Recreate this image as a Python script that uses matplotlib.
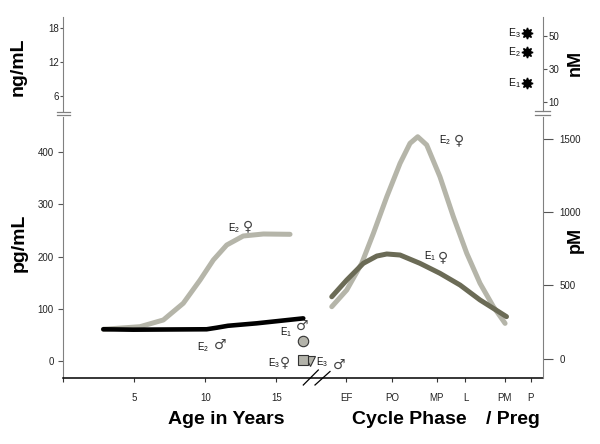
import matplotlib
matplotlib.use('Agg')
import matplotlib.pyplot as plt
from matplotlib.lines import Line2D

plt.rcParams['font.family'] = ['Liberation Sans', 'DejaVu Sans']
plt.rcParams['mathtext.fontset'] = 'custom'
plt.rcParams['mathtext.rm'] = 'Liberation Sans'
plt.rcParams['mathtext.it'] = 'Liberation Sans'

# ---------------- data ----------------
age_ticks = [0, 5, 10, 15]
age_tick_labels = ['', '5', '10', '15']
phase_labels = ['EF', 'PO', 'MP', 'L', 'PM', 'P']
phase_pos = [19.88, 23.11, 26.23, 28.26, 31.02, 32.84]

# childhood / puberty (pg/mL)
girl_e2_age = [2.85, 5.42, 7.06, 8.46, 9.64, 10.57, 11.51, 12.67, 14.08, 15.95]
girl_e2_pg = [60.8, 65.7, 78.6, 110.6, 155.2, 193.6, 222.3, 239.6, 243.4, 242.8]
boy_e2_age = [2.85, 4.95, 10.1, 10.81, 11.6, 13.61, 16.88]
boy_e2_pg = [60.8, 60.0, 60.8, 63.8, 67.5, 72.2, 81.7]

# adult male points (pg/mL)
male_e1_x, male_e1_pg = 16.88, 38.9
male_e3f_x, male_e3f_pg = 16.88, 1.9
male_e3m_x, male_e3m_pg = 17.35, 0.5

# menstrual cycle (pM)
cyc_e2_x = [18.88, 19.93, 20.98, 21.8, 22.74, 23.67, 24.37, 24.91, 25.54,
            26.47, 27.41, 28.35, 29.28, 30.22, 31.04]
cyc_e2_pM = [354, 468, 650, 855, 1105, 1333, 1470, 1515, 1459,
             1242, 969, 719, 514, 354, 240]
cyc_e1_x = [18.88, 19.93, 21.09, 22.04, 22.74, 23.67, 25.07, 26.47, 27.88,
            29.28, 31.14]
cyc_e1_pM = [422, 536, 650, 700, 714, 707, 650, 582, 502, 400, 286]

# pregnancy (nM)
preg_x = 32.6
preg_names = ['E$_1$', 'E$_2$', 'E$_3$']
preg_nM = [21.3, 40.5, 51.8]

# ---------------- style ----------------
LIGHT = '#b5b5a9'
DARK = '#6b6b56'
SPINE = '#808080'
W, H = 600, 444


def fx(x):
    return x / W


def fy(y):
    return 1 - y / H


fig = plt.figure(figsize=(6, 4.44), dpi=100)

# lower panel
ax = fig.add_axes([fx(62.7), fy(378), fx(542.7) - fx(62.7), fy(116.7) - fy(378)])
ax.set_xlim(0, 33.68)
ax.set_ylim(-32.6, 468.2)
axr = ax.twinx()
axr.set_ylim(-133.2, 1651.9)

for s in ['top', 'right']:
    ax.spines[s].set_visible(False)
ax.spines['left'].set_color(SPINE)
ax.spines['bottom'].set_color('black')
ax.spines['bottom'].set_linewidth(1.1)
for s in ['top', 'left', 'bottom']:
    axr.spines[s].set_visible(False)
axr.spines['right'].set_color(SPINE)

ax.set_yticks([0, 100, 200, 300, 400])
ax.tick_params(axis='y', direction='out', length=3.6, pad=3, labelsize=7,
               color='#555555', labelcolor='#222222')
ax.set_xticks(age_ticks + phase_pos)
ax.set_xticklabels(age_tick_labels + phase_labels)
ax.tick_params(axis='x', direction='out', length=3, pad=8, labelsize=7,
               color='#333333', labelcolor='#222222')
axr.set_yticks([0, 500, 1000, 1500])
axr.tick_params(axis='y', direction='out', length=7, pad=5, labelsize=7,
                color='#555555', labelcolor='#222222')

# curves
ax.plot(girl_e2_age, girl_e2_pg, color=LIGHT, lw=3.6, solid_capstyle='round',
        solid_joinstyle='round', zorder=2)
ax.plot(boy_e2_age, boy_e2_pg, color='black', lw=3.3, solid_capstyle='round',
        solid_joinstyle='round', zorder=3)
axr.plot(cyc_e2_x, cyc_e2_pM, color=LIGHT, lw=3.6, solid_capstyle='round',
         solid_joinstyle='round')
axr.plot(cyc_e1_x, cyc_e1_pM, color=DARK, lw=3.6, solid_capstyle='round',
         solid_joinstyle='round')

ax.plot([male_e1_x], [male_e1_pg], 'o', ms=7.5, mfc='#b3b3aa', mec='#333333', mew=0.8, zorder=4)
ax.plot([male_e3m_x], [male_e3m_pg], 'v', ms=6.5, mfc='#b3b3aa', mec='#333333', mew=0.8, zorder=4)
ax.plot([male_e3f_x], [male_e3f_pg], 's', ms=6.5, mfc='#b3b3aa', mec='#333333', mew=0.8, zorder=5)

# labels lower panel
def lab(a, xe, ye, sub, xs, ys, sym):
    a.text(xe, ye, 'E$_{%s}$' % sub, fontsize=7, ha='left', va='center', color='#111111')
    a.text(xs, ys, sym, fontsize=10, ha='center', va='center', color='#444444',
           family=['DejaVu Sans'])

lab(ax, 11.60, 254.9, '2', 12.98, 258.7, '\u2640')
lab(ax, 15.22, 55.6, '1', 16.82, 67.0, '\u2642')
lab(ax, 9.45, 27.4, '2', 11.08, 30.7, '\u2642')
lab(ax, 14.40, -4.4, '3', 15.62, -1.9, '\u2640')
lab(ax, 17.80, -1.9, '3', 19.42, -7.7, '\u2642')
lab(axr, 26.42, 1493, '2', 27.80, 1493, '\u2640')
lab(axr, 25.35, 700, '1', 26.68, 695, '\u2640')

# upper panel
axt = fig.add_axes([fx(62.7), fy(110.7), fx(542.7) - fx(62.7), fy(17) - fy(110.7)])
axt.set_xlim(0, 33.68)
axt.set_ylim(3.49, 20.02)
axtr = axt.twinx()
axtr.set_ylim(4.63, 61.7)
for s in ['top', 'right', 'bottom']:
    axt.spines[s].set_visible(False)
axt.spines['left'].set_color(SPINE)
for s in ['top', 'left', 'bottom']:
    axtr.spines[s].set_visible(False)
axtr.spines['right'].set_color(SPINE)
axt.set_xticks([])
axt.set_yticks([6, 12, 18])
axt.tick_params(axis='y', direction='out', length=2, pad=0.5, labelsize=7,
                color='#555555', labelcolor='#222222')
axtr.set_yticks([10, 30, 50])
axtr.tick_params(axis='y', direction='out', length=3, pad=1, labelsize=7,
                 color='#555555', labelcolor='#222222')

axtr.plot([preg_x] * len(preg_nM), preg_nM, linestyle='none', marker=(8, 1, 0),
          ms=8, color='black')
for name, v in zip(preg_names, preg_nM):
    axtr.text(preg_x - 0.45, v, name, fontsize=7.5, ha='right', va='center', color='#111111')

# axis break marks
for y in (111.7, 115.3):
    fig.add_artist(Line2D([fx(56.7), fx(70)], [fy(y), fy(y)], color=SPINE, lw=0.9))
for y in (110.9, 115.0):
    fig.add_artist(Line2D([fx(535), fx(550)], [fy(y), fy(y)], color=SPINE, lw=0.9))
fig.add_artist(Line2D([fx(303.3), fx(318.3)], [fy(385), fy(370)], color='black', lw=0.9))
fig.add_artist(Line2D([fx(315), fx(330)], [fy(385), fy(371.5)], color='black', lw=0.9))

# axis titles
fig.text(fx(18), fy(67), 'ng/mL', rotation=90, fontsize=14, fontweight='bold',
         ha='center', va='center')
fig.text(fx(19), fy(243), 'pg/mL', rotation=90, fontsize=14, fontweight='bold',
         ha='center', va='center')
fig.text(fx(575), fy(62.5), 'nM', rotation=90, fontsize=13, fontweight='bold',
         ha='center', va='center')
fig.text(fx(575), fy(240), 'pM', rotation=90, fontsize=13, fontweight='bold',
         ha='center', va='center')
fig.text(fx(226), fy(419), 'Age in Years', fontsize=14, fontweight='bold',
         ha='center', va='center')
fig.text(fx(409.6), fy(419), 'Cycle Phase', fontsize=14, fontweight='bold',
         ha='center', va='center')
fig.text(fx(512.5), fy(419), '/ Preg', fontsize=14, fontweight='bold',
         ha='center', va='center')

fig.savefig('out.png', dpi=100)
